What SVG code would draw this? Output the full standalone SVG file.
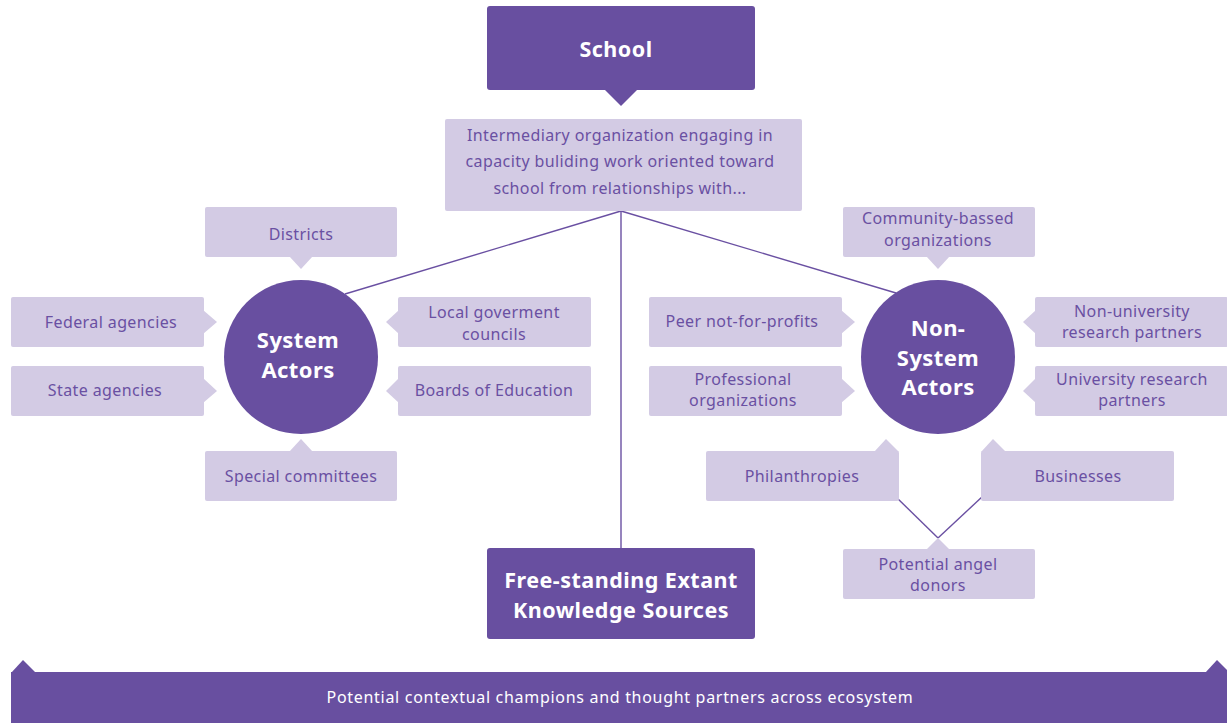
<svg xmlns="http://www.w3.org/2000/svg" width="1227" height="723" viewBox="0 0 1227 723">
<style>
.dark{fill:#684fa0}
.light{fill:#d3cbe4}
.lt{font-family:"Noto Sans","Open Sans",sans-serif;font-size:16px;letter-spacing:0.4px;fill:#6a50a2;text-anchor:middle;dominant-baseline:central}
.bt{font-family:"Noto Sans","Open Sans",sans-serif;font-size:21.5px;letter-spacing:0.5px;font-weight:bold;fill:#ffffff;text-anchor:middle;dominant-baseline:central}
.ct{font-family:"Noto Sans","Open Sans",sans-serif;font-size:22px;letter-spacing:0.4px;font-weight:bold;fill:#ffffff;text-anchor:middle;dominant-baseline:central}
.ft{font-family:"Noto Sans","Open Sans",sans-serif;font-size:16px;letter-spacing:0.7px;fill:#ffffff;text-anchor:middle;dominant-baseline:central}
.conn line{stroke:#6a50a2;stroke-width:1.4}
</style>
<rect width="1227" height="723" fill="#ffffff"/>
<g class="conn" id="connectors">
<line x1="621" y1="211" x2="345" y2="294"/>
<line x1="621" y1="211" x2="896" y2="293"/>
<line x1="621" y1="211" x2="621" y2="548"/>
<line x1="894" y1="495" x2="938" y2="538"/>
<line x1="983" y1="496" x2="938" y2="538"/>
</g>
<g id="school">
<rect class="dark" x="487" y="6" width="268" height="84" rx="3"/>
<polygon class="dark" points="604,89 638,89 621,106"/>
<text class="bt" x="616" y="48">School</text>
</g>
<g id="intermediary">
<rect class="light" x="445" y="119" width="357" height="92" rx="2"/>
<text class="lt" x="620" y="135">Intermediary organization engaging in</text>
<text class="lt" x="620" y="161">capacity buliding work oriented toward</text>
<text class="lt" x="620" y="188">school from relationships with...</text>
</g>
<g id="system-actors">
<circle class="dark" cx="301" cy="357" r="77"/>
<text class="ct" x="298" y="339">System</text>
<text class="ct" x="298" y="369">Actors</text>
</g>
<g id="districts">
<rect class="light" x="205" y="207" width="192" height="50" rx="2"/>
<polygon class="light" points="289,256 313,256 301,269"/>
<text class="lt" x="301" y="234">Districts</text>
</g>
<g id="federal">
<rect class="light" x="11" y="297" width="193" height="50" rx="2"/>
<polygon class="light" points="203,310 217,322 203,334"/>
<text class="lt" x="111" y="322">Federal agencies</text>
</g>
<g id="state">
<rect class="light" x="11" y="366" width="193" height="50" rx="2"/>
<polygon class="light" points="203,378 217,391 203,403"/>
<text class="lt" x="105" y="390">State agencies</text>
</g>
<g id="local">
<rect class="light" x="398" y="297" width="193" height="50" rx="2"/>
<polygon class="light" points="399,310 386,322 399,334"/>
<text class="lt" x="494" y="312">Local goverment</text>
<text class="lt" x="494" y="334">councils</text>
</g>
<g id="boards">
<rect class="light" x="398" y="366" width="193" height="50" rx="2"/>
<polygon class="light" points="399,378 386,391 399,403"/>
<text class="lt" x="494" y="390">Boards of Education</text>
</g>
<g id="special">
<rect class="light" x="205" y="451" width="192" height="50" rx="2"/>
<polygon class="light" points="289,452 313,452 301,439"/>
<text class="lt" x="301" y="476">Special committees</text>
</g>
<g id="non-system-actors">
<circle class="dark" cx="938" cy="357" r="77"/>
<text class="ct" x="938" y="327">Non-</text>
<text class="ct" x="938" y="357">System</text>
<text class="ct" x="938" y="386">Actors</text>
</g>
<g id="community">
<rect class="light" x="843" y="207" width="192" height="50" rx="2"/>
<polygon class="light" points="926,256 950,256 938,269"/>
<text class="lt" x="938" y="218">Community-bassed</text>
<text class="lt" x="938" y="240">organizations</text>
</g>
<g id="peer">
<rect class="light" x="649" y="297" width="193" height="50" rx="2"/>
<polygon class="light" points="841,310 855,322 841,334"/>
<text class="lt" x="742" y="321">Peer not-for-profits</text>
</g>
<g id="professional">
<rect class="light" x="649" y="366" width="193" height="50" rx="2"/>
<polygon class="light" points="841,378 855,391 841,403"/>
<text class="lt" x="743" y="379">Professional</text>
<text class="lt" x="743" y="400">organizations</text>
</g>
<g id="non-university">
<rect class="light" x="1035" y="297" width="193" height="50" rx="2"/>
<polygon class="light" points="1036,310 1023,322 1036,334"/>
<text class="lt" x="1132" y="311">Non-university</text>
<text class="lt" x="1132" y="332">research partners</text>
</g>
<g id="university">
<rect class="light" x="1035" y="366" width="193" height="50" rx="2"/>
<polygon class="light" points="1036,378 1023,391 1036,403"/>
<text class="lt" x="1132" y="379">University research</text>
<text class="lt" x="1132" y="400">partners</text>
</g>
<g id="philanthropies">
<rect class="light" x="706" y="451" width="193" height="50" rx="2"/>
<polygon class="light" points="874,452 886,439 899,452"/>
<text class="lt" x="802" y="476">Philanthropies</text>
</g>
<g id="businesses">
<rect class="light" x="981" y="451" width="193" height="50" rx="2"/>
<polygon class="light" points="981,452 993,439 1006,452"/>
<text class="lt" x="1078" y="476">Businesses</text>
</g>
<g id="angel">
<rect class="light" x="843" y="549" width="192" height="50" rx="2"/>
<polygon class="light" points="926,550 938,538 950,550"/>
<text class="lt" x="938" y="564">Potential angel</text>
<text class="lt" x="938" y="585">donors</text>
</g>
<g id="free-standing">
<rect class="dark" x="487" y="548" width="268" height="91" rx="3"/>
<text class="bt" x="621" y="579">Free-standing Extant</text>
<text class="bt" x="621" y="609">Knowledge Sources</text>
</g>
<g id="banner">
<rect class="dark" x="11" y="672" width="1216" height="51"/>
<polygon class="dark" points="11,673 23,660 36,673"/>
<polygon class="dark" points="1205,673 1217,660 1227,670 1227,673"/>
<text class="ft" x="620" y="697">Potential contextual champions and thought partners across ecosystem</text>
</g>
</svg>
